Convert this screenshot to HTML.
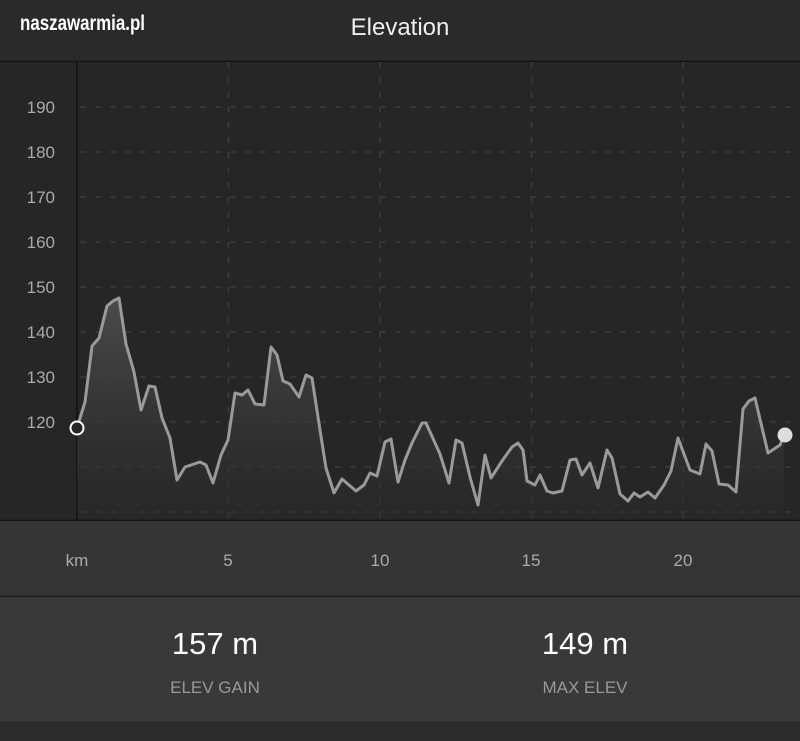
<!DOCTYPE html>
<html><head><meta charset="utf-8"><style>
html,body{margin:0;padding:0;width:800px;height:741px;overflow:hidden;background:#2b2b2b;font-family:"Liberation Sans",sans-serif;}
</style></head><body>
<svg width="800" height="741" xmlns="http://www.w3.org/2000/svg" style="display:block">
<defs>
<linearGradient id="g" x1="0" y1="0" x2="0" y2="1">
<stop offset="0" stop-color="#505050" stop-opacity="0.9"/>
<stop offset="1" stop-color="#2a2a2a" stop-opacity="0.4"/>
</linearGradient>
</defs>
<rect x="0" y="0" width="800" height="61" fill="#2a2a2a"/>
<line x1="0" y1="61.5" x2="800" y2="61.5" stroke="#111" stroke-width="1.5"/>
<rect x="0" y="62" width="800" height="458" fill="#262626"/>
<text x="20" y="30" fill="#fff" font-family="Liberation Sans Narrow, Liberation Sans, sans-serif" font-weight="bold" font-size="21" textLength="125" lengthAdjust="spacingAndGlyphs">naszawarmia.pl</text>
<text x="400" y="35" fill="#eee" font-size="24" text-anchor="middle">Elevation</text>
<g stroke="#3c3c3c" stroke-width="1.5" stroke-dasharray="6 9">
<line x1="80" y1="107" x2="790" y2="107"/><line x1="80" y1="152" x2="790" y2="152"/>
<line x1="80" y1="197" x2="790" y2="197"/><line x1="80" y1="242" x2="790" y2="242"/>
<line x1="80" y1="287" x2="790" y2="287"/><line x1="80" y1="332" x2="790" y2="332"/>
<line x1="80" y1="377" x2="790" y2="377"/><line x1="80" y1="422" x2="790" y2="422"/>
<line x1="80" y1="467" x2="790" y2="467"/><line x1="80" y1="512" x2="790" y2="512"/>
<line x1="228.5" y1="62" x2="228.5" y2="520"/><line x1="380" y1="62" x2="380" y2="520"/>
<line x1="531.5" y1="62" x2="531.5" y2="520"/><line x1="683" y1="62" x2="683" y2="520"/>
</g>
<line x1="77" y1="62" x2="77" y2="520" stroke="#111" stroke-width="1.5"/>
<g fill="#aaa" font-size="17" text-anchor="end">
<text x="55" y="113">190</text><text x="55" y="158">180</text><text x="55" y="203">170</text>
<text x="55" y="248">160</text><text x="55" y="293">150</text><text x="55" y="338">140</text>
<text x="55" y="383">130</text><text x="55" y="428">120</text>
</g>
<path fill="url(#g)" d="M77,428 L85,402 92,346 99,338 107,306 113,301 119,298 126,344 134,372 141,410 149,386 155,387 162,418 170,438 177,480 185,467 194,464 200,462 206,465 213,483 221,455 228,440 235,393 242,395 248,390 255,404 264,405 271,347 277,355 283,381 290,384 299,397 306,375 312,378 320,430 326,468 334,493 342,479 349,485 356,491 364,485 370,473 377,476 385,442 391,439 398,482 405,460 412,443 422,423 426,423 440,454 449,483 456,440 462,443 470,477 478,505 485,455 491,478 502,461 512,447 518,443 523,450 527,481 535,485 540,475 547,491 553,493 562,491 570,460 576,459 582,475 590,463 598,488 607,450 612,458 620,494 628,501 634,493 640,497 648,492 655,498 664,485 671,471 678,438 690,470 700,474 706,444 712,451 719,484 728,485 736,492 743,409 749,401 755,398 768,453 780,445 784,435 L784,519 L77,519 Z"/>
<polyline fill="none" stroke="#9a9a9a" stroke-width="3" stroke-linejoin="round" points="77,428 85,402 92,346 99,338 107,306 113,301 119,298 126,344 134,372 141,410 149,386 155,387 162,418 170,438 177,480 185,467 194,464 200,462 206,465 213,483 221,455 228,440 235,393 242,395 248,390 255,404 264,405 271,347 277,355 283,381 290,384 299,397 306,375 312,378 320,430 326,468 334,493 342,479 349,485 356,491 364,485 370,473 377,476 385,442 391,439 398,482 405,460 412,443 422,423 426,423 440,454 449,483 456,440 462,443 470,477 478,505 485,455 491,478 502,461 512,447 518,443 523,450 527,481 535,485 540,475 547,491 553,493 562,491 570,460 576,459 582,475 590,463 598,488 607,450 612,458 620,494 628,501 634,493 640,497 648,492 655,498 664,485 671,471 678,438 690,470 700,474 706,444 712,451 719,484 728,485 736,492 743,409 749,401 755,398 768,453 780,445 784,435"/>
<circle cx="77" cy="428" r="6.5" fill="#262626" stroke="#fff" stroke-width="2"/>
<circle cx="785" cy="435" r="7.5" fill="#ddd"/>
<line x1="0" y1="520.5" x2="800" y2="520.5" stroke="#111" stroke-width="1.5"/>
<rect x="0" y="521" width="800" height="75" fill="#353535"/>
<line x1="0" y1="596.5" x2="800" y2="596.5" stroke="#1a1a1a" stroke-width="1.5"/>
<g fill="#aaa" font-size="17" text-anchor="middle">
<text x="77" y="566">km</text><text x="228" y="566">5</text><text x="380" y="566">10</text>
<text x="531" y="566">15</text><text x="683" y="566">20</text>
</g>
<rect x="0" y="597" width="800" height="124" fill="#393939"/>
<rect x="0" y="721" width="800" height="20" fill="#2b2b2b"/>
<g text-anchor="middle">
<text x="215" y="654" fill="#fff" font-size="31">157 m</text>
<text x="585" y="654" fill="#fff" font-size="31">149 m</text>
<text x="215" y="693" fill="#999" font-size="17">ELEV GAIN</text>
<text x="585" y="693" fill="#999" font-size="17">MAX ELEV</text>
</g>
</svg>
</body></html>
